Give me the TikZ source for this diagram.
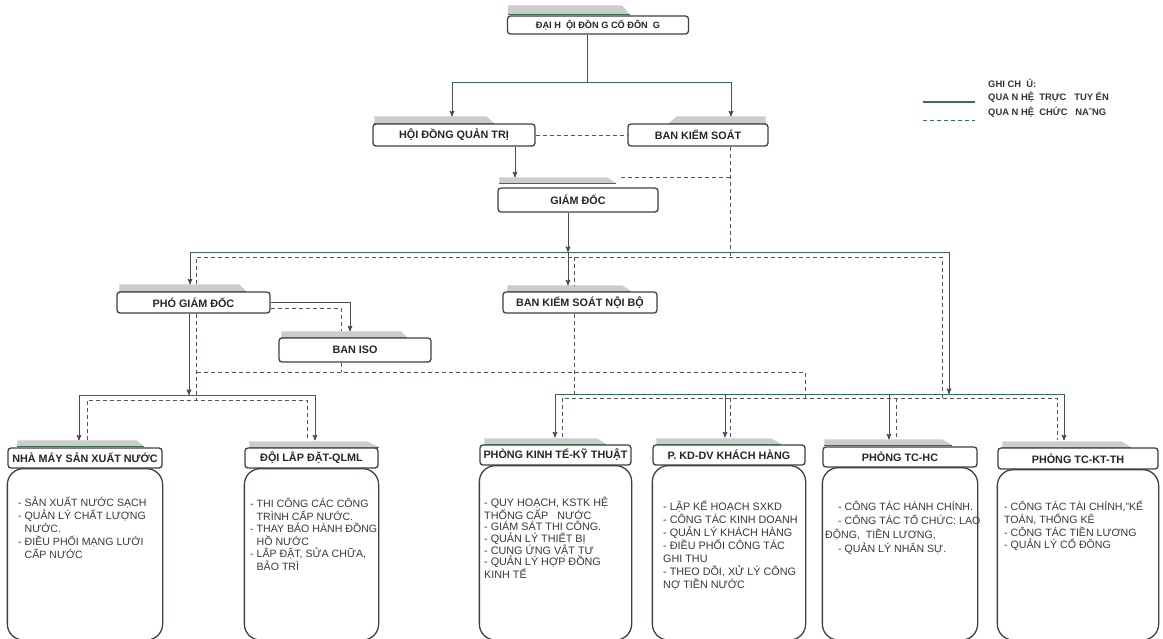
\documentclass[tikz,border=0pt]{standalone}
\usepackage{fontspec}
\setmainfont{Liberation Sans}
\usetikzlibrary{arrows}
\definecolor{gruen}{RGB}{50,115,72}
\definecolor{rand}{RGB}{60,66,62}
\definecolor{strich}{RGB}{90,80,98}
\tikzset{
	>=stealth',
	rubrik/.style={
		rectangle,
		rounded corners=3pt,
		draw=rand, line width=1.3pt,
		fill=white,
		inner sep=0pt,
		minimum height=20pt,
		text=black!85,
		font=\fontsize{10.8}{12}\selectfont\bfseries},
	korpus/.style={draw=rand, line width=1.3pt, rounded corners=16pt},
	inhalt/.style={anchor=north west, inner sep=0pt, align=left, text=black!78},
	linie/.style={draw=black!70, line width=1pt},
	schiene/.style={draw=gruen, line width=1pt},
	pfeil/.style={linie, ->},
	funk/.style={draw=strich, line width=1pt, dash pattern=on 4pt off 3pt},
	legende/.style={anchor=west, inner sep=0pt, text=black!80, font=\fontsize{9.4}{11}\selectfont\bfseries},
	flik/.style={fill=gray!40},
	pics/reiter/.style n args={3}{code={
		\fill[flik] (0,0) -- (0,-#3) -- (#1,-#3) -- (#1+#2,0) -- cycle;
		\draw[gruen, line width=1pt] (0,0) -- (#1+#2,0);
	}},
}

\begin{document}
\begin{tikzpicture}[x=1pt, y=-1pt]
	\fill[white, use as bounding box] (0,0) rectangle (1163,638);
	% ebene 1
	\node[rubrik, minimum width=181pt, minimum height=18pt,
		font=\fontsize{9.2}{10}\selectfont\bfseries] (dhcd) at (598,25) {ĐẠI H\ \ ỘI ĐỒN G CỔ ĐÔN\ \ G};
	\node[rubrik, minimum width=162pt, minimum height=22pt] (hdqt) at (454,135) {HỘI ĐỒNG QUẢN TRỊ};
	\node[rubrik, minimum width=140pt, minimum height=22pt] (bks) at (698,135) {BAN KIỂM SOÁT};
	\node[rubrik, minimum width=160pt, minimum height=24pt] (gd) at (578,200) {GIÁM ĐỐC};
	% ebene 2
	\node[rubrik, minimum width=153pt, minimum height=21pt] (pgd) at (193.5,302.5) {PHÓ GIÁM ĐỐC};
	\node[rubrik, minimum width=152pt, minimum height=24pt] (iso) at (355,350) {BAN ISO};
	\node[rubrik, minimum width=154pt, minimum height=21pt] (bksnb) at (580,302.5) {BAN KIỂM SOÁT NỘI BỘ};
	% phong ban
	\node[rubrik, minimum width=154pt] (nm) at (85,458) {NHÀ MÁY SẢN XUẤT NƯỚC};
	\node[rubrik, minimum width=133pt] (dl) at (311.5,458) {ĐỘI LẮP ĐẶT-QLML};
	\node[rubrik, minimum width=151pt] (pkt) at (555.5,455) {PHÒNG KINH TẾ-KỸ THUẬT};
	\node[rubrik, minimum width=152pt] (kd) at (729,455) {P. KD-DV KHÁCH HÀNG};
	\node[rubrik, minimum width=154pt] (hc) at (900,457) {PHÒNG TC-HC};
	\node[rubrik, minimum width=160pt, minimum height=21pt] (kt) at (1078,458.5) {PHÒNG TC-KT-TH};
	\foreach \n in {nm,dl,pkt,kd,hc,kt}
		\draw[korpus] (\n.south west) rectangle (\n.south east |- 0,640);
	% reiter
	\pic at ([xshift=1pt,yshift=1pt]dhcd.north west) {reiter={114}{8}{9}};
	\pic at ([xshift=2pt]hdqt.north west) {reiter={112}{8}{7}};
	\pic[xscale=-1] at ([xshift=-3pt]bks.north east) {reiter={89}{8}{7}};
	\pic at ([xshift=2pt,yshift=4pt]gd.north west) {reiter={108}{9}{6}};
	\pic at ([xshift=3pt]pgd.north west) {reiter={120}{7}{7}};
	\pic at ([xshift=3pt]iso.north west) {reiter={120}{6}{6}};
	\pic at ([xshift=5pt]bksnb.north west) {reiter={115}{9}{6}};
	\pic at ([xshift=10pt,yshift=1pt]nm.north west) {reiter={119}{8}{6}};
	\pic at ([xshift=5pt]dl.north west) {reiter={118}{12}{6}};
	\pic at ([xshift=5pt]pkt.north west) {reiter={113}{9}{6}};
	\pic at ([xshift=4pt]kd.north west) {reiter={115}{10}{6}};
	\pic at ([xshift=2pt,yshift=1pt]hc.north west) {reiter={118}{10}{6}};
	\pic at ([xshift=5pt]kt.north west) {reiter={119}{10}{6}};
	% inhalt
	\node[inhalt, font=\fontsize{10.6}{13}\selectfont] (nm-txt) at (18,497)
		{- SẢN XUẤT NƯỚC SẠCH\\- QUẢN LÝ CHẤT LƯỢNG\\\hphantom{- }NƯỚC.\\- ĐIỀU PHỐI MẠNG LƯỚI\\\hphantom{- }CẤP NƯỚC};
	\node[inhalt, font=\fontsize{10.6}{12.6}\selectfont] (dl-txt) at (250,498)
		{- THI CÔNG CÁC CÔNG\\\hphantom{- }TRÌNH CẤP NƯỚC.\\- THAY BẢO HÀNH ĐỒNG\\\hphantom{- }HỒ NƯỚC\\- LẮP ĐẶT, SỬA CHỮA,\\\hphantom{- }BẢO TRÌ};
	\node[inhalt, font=\fontsize{10.8}{11.6}\selectfont] (pkt-txt) at (484,497)
		{- QUY HOẠCH, KSTK HỆ\\THỐNG CẤP\ \ \ NƯỚC\\- GIÁM SÁT THI CÔNG.\\- QUẢN LÝ THIẾT BỊ\\- CUNG ỨNG VẬT TƯ\\- QUẢN LÝ HỢP ĐỒNG\\KINH TẾ};
	\node[inhalt, font=\fontsize{10.8}{12.9}\selectfont] (kd-txt) at (663,501)
		{- LẬP KẾ HOẠCH SXKD\\- CÔNG TÁC KINH DOANH\\- QUẢN LÝ KHÁCH HÀNG\\- ĐIỀU PHỐI CÔNG TÁC\\GHI THU\\- THEO DÕI, XỬ LÝ CÔNG\\NỢ TIỀN NƯỚC};
	\node[inhalt, font=\fontsize{10.6}{14}\selectfont] (hc-txt) at (825,501)
		{\hspace*{13pt}- CÔNG TÁC HÀNH CHÍNH.\\\hspace*{13pt}- CÔNG TÁC TỔ CHỨC: LAO\\ĐỘNG,\ \ TIỀN LƯƠNG,\\\hspace*{13pt}- QUẢN LÝ NHÂN SỰ.};
	\node[inhalt, font=\fontsize{10.6}{12.7}\selectfont] (kt-txt) at (1004,501)
		{- CÔNG TÁC TÀI CHÍNH,"KẾ\\TOÁN, THỐNG KÊ\\- CÔNG TÁC TIỀN LƯƠNG\\- QUẢN LÝ CỔ ĐÔNG};
	% linien oben
	\coordinate (t0) at (587,82);
	\coordinate (t1) at (452,82);
	\coordinate (t2) at (731,82);
	\draw[linie] (dhcd.south -| t0) -- (t0);
	\draw[schiene] (t1) -- (t2);
	\draw[pfeil, shorten >=7pt] (t1) -- (hdqt.north -| t1);
	\draw[pfeil, shorten >=7pt] (t2) -- (bks.north -| t2);
	\draw[funk] (hdqt.east) -- (bks.west);
	\draw[pfeil, shorten >=10pt] (hdqt.south -| 515,0) -- (gd.north -| 515,0);
	\coordinate (k0) at (730,177);
	\coordinate (k1) at (618,177);
	\draw[funk] (bks.south -| k0) -- (730,257);
	\draw[funk] (k0) -- (k1);
	% schiene giam doc
	\coordinate (b0) at (568,252);
	\coordinate (b1) at (190,252);
	\coordinate (b2) at (949,252);
	\draw[pfeil] (gd.south -| b0) -- (b0);
	\draw[schiene] (b1) -- (b2);
	\draw[pfeil, shorten >=6pt] (b0) -- (bksnb.north -| b0);
	\draw[pfeil, shorten >=7pt] (b1) -- (pgd.north -| b1);
	\draw[pfeil] (b2) -- (949,394);
	\draw[funk, shorten <=7pt] (pgd.north -| 196,0) |- (942,257) -- (942,398);
	\draw[funk, shorten >=6pt] (574,257) -- (bksnb.north -| 574,0);
	\draw[funk] (bksnb.south -| 574,0) -- (574,398);
	% pho giam doc
	\draw[pfeil, shorten >=6pt] (pgd.east) -| (iso.north -| 350,0);
	\draw[funk, shorten >=6pt] (pgd.east |- 0,308) -| (iso.north -| 341,0);
	\draw[funk] (iso.south -| 341,0) -- (341,372);
	\draw[funk] (197,372) -| (805,398);
	\draw[pfeil] (pgd.south -| 189,0) -- (189,395);
	\draw[funk] (pgd.south -| 196,0) -- (196,400);
	% links unten
	\draw[schiene] (79,395) -- (315,395);
	\draw[pfeil, shorten >=7pt] (79,395) -- (nm.north -| 79,0);
	\draw[pfeil, shorten >=7pt] (315,395) -- (dl.north -| 315,0);
	\draw[funk, shorten <=7pt, shorten >=7pt] (nm.north -| 87,0) |- (307,400) -- (dl.north -| 307,0);
	% rechts unten
	\draw[schiene] (555,394) -- (1064,394);
	\foreach \x/\n in {555/pkt,725/kd,889/hc,1064/kt}
		\draw[pfeil, shorten >=7pt] (\x,394) -- (\n.north -| \x,0);
	\draw[funk, shorten <=7pt, shorten >=7pt] (pkt.north -| 562,0) |- (1057,398) -- (kt.north -| 1057,0);
	\foreach \x/\n in {730/kd,896/hc}
		\draw[funk, shorten >=7pt] (\x,398) -- (\n.north -| \x,0);
	% legende
	\coordinate (l1) at (923,102);
	\coordinate (l2) at (923,120);
	\draw[schiene, line width=1.2pt] (l1) -- ++(52,0);
	\draw[funk, draw=gruen] (l2) -- ++(52,0);
	\node[legende] (ghichu) at (988,83) {GHI CH\ \ Ú:};
	\node[legende] (tructuyen) at (988,97) {QUA N HỆ\ \ TRỰC\ \ \ TUY ẾN};
	\node[legende] (chucnang) at (988,112) {QUA N HỆ\ \ CHỨC\ \ \ NA˜NG};
\end{tikzpicture}
\end{document}
